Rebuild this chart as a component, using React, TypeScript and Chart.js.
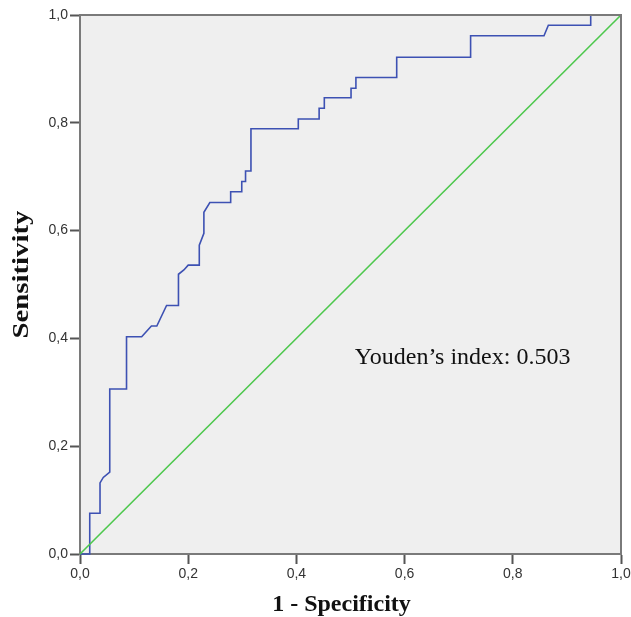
import React, { useEffect, useRef } from "react";
import { Chart, registerables } from "chart.js";

Chart.register(...registerables);

const fpr = [
  0, 0.018, 0.018, 0.037, 0.037, 0.043, 0.055, 0.055, 0.086, 0.086, 0.114, 0.132, 0.142, 0.16, 0.182,
  0.182, 0.192, 0.2, 0.2205, 0.2205, 0.229, 0.229, 0.24, 0.2785, 0.2785, 0.299, 0.299, 0.306, 0.306,
  0.316, 0.316, 0.4035, 0.4035, 0.442, 0.442, 0.4516, 0.4516, 0.501, 0.501, 0.51, 0.51, 0.5854, 0.5854,
  0.722, 0.722, 0.8577, 0.8657, 0.944, 0.944, 1.0,
];
const tpr = [
  0, 0, 0.0755, 0.0755, 0.132, 0.142, 0.152, 0.306, 0.306, 0.403, 0.403, 0.423, 0.423, 0.461, 0.461,
  0.519, 0.527, 0.536, 0.536, 0.573, 0.595, 0.634, 0.652, 0.652, 0.672, 0.672, 0.691, 0.691, 0.7106,
  0.7106, 0.789, 0.789, 0.807, 0.807, 0.827, 0.827, 0.8466, 0.8466, 0.864, 0.864, 0.884, 0.884, 0.9215,
  0.9215, 0.9616, 0.9616, 0.981, 0.981, 1.0, 1.0,
];
const refX = [0, 1];
const refY = [0, 1];
const xTitle = "1 - Specificity";
const yTitle = "Sensitivity";
const annotationText = "Youden\u2019s index: 0.503";
const annotationPos = { x: 0.508, y: 0.364 };

const fmt = (v: number) => v.toFixed(1).replace(".", ",");

const framePlugin = {
  id: "frame",
  beforeDraw(chart: any) {
    const { ctx, chartArea: a } = chart;
    ctx.save();
    ctx.fillStyle = "#efefef";
    ctx.fillRect(a.left, a.top, a.right - a.left, a.bottom - a.top);
    ctx.restore();
  },
  afterDraw(chart: any) {
    const { ctx, chartArea: a, scales } = chart;
    ctx.save();
    ctx.strokeStyle = "#7a7a7a";
    ctx.lineWidth = 2;
    ctx.beginPath();
    ctx.moveTo(a.left, a.top);
    ctx.lineTo(a.right, a.top);
    ctx.lineTo(a.right, a.bottom);
    ctx.stroke();

    // annotation
    ctx.fillStyle = "#111";
    ctx.font = "24px 'Liberation Serif', serif";
    ctx.textAlign = "left";
    ctx.textBaseline = "middle";
    ctx.fillText(
      annotationText,
      scales.x.getPixelForValue(annotationPos.x),
      scales.y.getPixelForValue(annotationPos.y)
    );

    // axis titles
    ctx.font = "bold 24px 'Liberation Serif', serif";
    ctx.textAlign = "center";
    ctx.textBaseline = "alphabetic";
    const cx = (a.left + a.right) / 2 - 9;
    ctx.fillText(xTitle, cx, chart.height - 6);

    const cy = (a.top + a.bottom) / 2 - 10;
    const w = ctx.measureText(yTitle).width;
    const stretch = 128 / w;
    ctx.translate(28, cy);
    ctx.rotate(-Math.PI / 2);
    ctx.scale(stretch, 1);
    ctx.fillText(yTitle, 0, 0);
    ctx.restore();
  },
};

export default function App() {
  const ref = useRef<HTMLCanvasElement | null>(null);
  useEffect(() => {
    document.body.style.margin = "0";
    const canvas = ref.current!;
    const tickFont = { family: "'Liberation Sans', Arial, sans-serif", size: 14 };
    const chart = new Chart(canvas, {
      type: "scatter",
      data: {
        datasets: [
          {
            data: refX.map((x, i) => ({ x, y: refY[i] })),
            showLine: true,
            borderColor: "#4dc84d",
            borderWidth: 1.6,
            pointRadius: 0,
            clip: false as any,
          },
          {
            data: fpr.map((x, i) => ({ x, y: tpr[i] })),
            showLine: true,
            borderColor: "#3d51b3",
            borderWidth: 1.6,
            pointRadius: 0,
            clip: false as any,
          },
        ],
      },
      options: {
        responsive: false,
        animation: false,
        layout: { padding: { top: 15, right: 10, left: 0, bottom: 0 } },
        plugins: { legend: { display: false }, tooltip: { enabled: false } },
        scales: {
          x: {
            type: "linear",
            min: 0,
            max: 1,
            afterFit: (s: any) => {
              s.height = 63;
              s.paddingLeft = 0;
              s.paddingRight = 0;
            },
            ticks: {
              stepSize: 0.2,
              callback: (v: any) => fmt(Number(v)),
              color: "#333",
              font: tickFont,
              padding: 2,
              maxRotation: 0,
            },
            grid: {
              drawOnChartArea: false,
              drawTicks: true,
              tickLength: 10,
              tickColor: "#555",
              tickWidth: 2,
            },
            border: { color: "#7a7a7a", width: 2 },
            title: { display: false },
          },
          y: {
            type: "linear",
            min: 0,
            max: 1,
            afterFit: (s: any) => {
              s.width = 80;
              s.paddingTop = 0;
              s.paddingBottom = 0;
            },
            ticks: {
              stepSize: 0.2,
              callback: (v: any) => fmt(Number(v)),
              color: "#333",
              font: tickFont,
              padding: 2,
            },
            grid: {
              drawOnChartArea: false,
              drawTicks: true,
              tickLength: 10,
              tickColor: "#555",
              tickWidth: 2,
            },
            border: { color: "#7a7a7a", width: 2 },
            title: { display: false },
          },
        },
      },
      plugins: [framePlugin],
    });
    return () => chart.destroy();
  }, []);
  return (
    <div style={{ width: 631, height: 617 }}>
      <canvas ref={ref} width={631} height={617} style={{ display: "block" }} />
    </div>
  );
}
